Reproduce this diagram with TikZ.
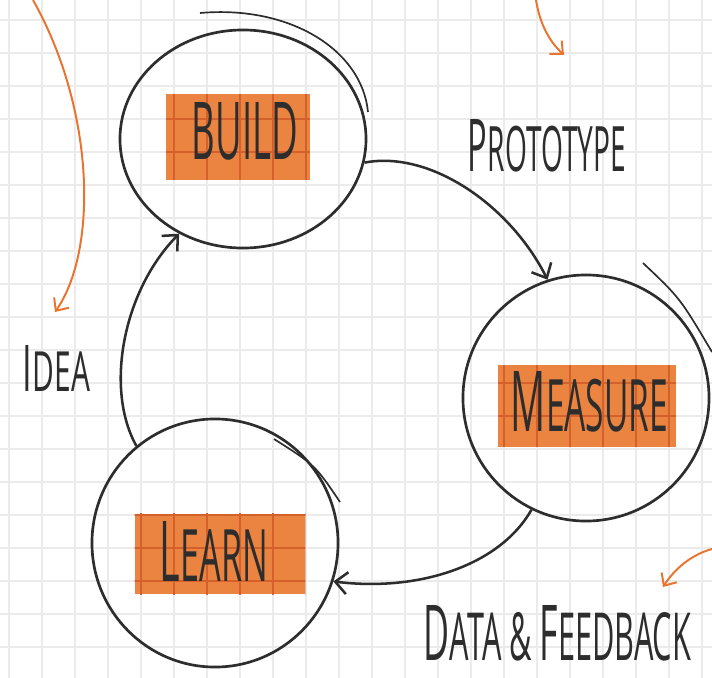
\documentclass[tikz,border=0pt]{standalone}
\usepackage{xcolor}
\usepackage{graphicx}
\usepackage{fontspec}
\setmainfont{Open Sans}
\usepackage{tikz}
\usetikzlibrary{shapes.geometric,arrows.meta}

\definecolor{ink}{HTML}{2D2D2D}
\definecolor{marker}{HTML}{EA8440}
\definecolor{markerline}{HTML}{D4612B}
\definecolor{pencil}{HTML}{E8742F}
\definecolor{paper}{HTML}{EBEBEB}

% big first letter, small caps after it
\newcommand{\capword}[2]{#1\scalebox{0.86}{#2}}

\begin{document}
\begin{tikzpicture}
    [x=0.025cm,y=-0.025cm,
    gridline/.style={paper,line width=1.1pt},
    boxgrid/.style={markerline,line width=0.9pt},
    stage/.style={ellipse,draw=ink,line width=1.9pt,inner sep=0pt},
    overstroke/.style={ink,line width=1.2pt},
    tag/.style={rectangle,fill=marker,inner sep=0pt},
    word/.style={inner sep=0pt,text=ink},
    flow/.style={ink,line width=1.8pt,-{Straight Barb[length=3mm,width=5.5mm]}},
    note/.style={pencil,line width=1.4pt,-{Straight Barb[length=2.5mm,width=4.5mm]}}]

\useasboundingbox (0,0) rectangle (712,678);
\fill[white] (0,0) rectangle (712,678);

%paper grid
\foreach \gx in {9,42,...,712}
    \draw[gridline] (\gx,0) -- (\gx,678);
\foreach \gy in {20,53,...,678}
    \draw[gridline] (0,\gy) -- (712,\gy);

%the three stages
\node[stage,minimum width=6.15cm,minimum height=5.45cm] (build) at (243,139) {};
\node[stage,minimum width=6.15cm,minimum height=6.15cm] (measure) at (586,398) {};
\node[stage,minimum width=6.15cm,minimum height=6.2cm] (learn) at (215,543) {};

%hand drawn overlaps of the circles
\draw[overstroke] (200,13) .. controls (290,5) and (362,50) .. (368,112);
\draw[overstroke] (643,263) .. controls (680,298) .. (712,352);
\draw[overstroke] (274,439) .. controls (315,465) .. (340,502);

%marker boxes
\node[tag,minimum width=3.575cm,minimum height=2.125cm] (buildbox) at (238,137) {};
\node[tag,minimum width=4.425cm,minimum height=2.025cm] (measurebox) at (587,406) {};
\node[tag,minimum width=4.25cm,minimum height=2cm] (learnbox) at (220,554) {};

%grid showing through the marker
\foreach \b in {buildbox,measurebox,learnbox} {
    \begin{scope}
    \clip (\b.south west) rectangle (\b.north east);
    \foreach \gx in {9,42,...,712}
        \draw[boxgrid] (\gx,0) -- (\gx,678);
    \foreach \gy in {20,53,...,678}
        \draw[boxgrid] (0,\gy) -- (712,\gy);
    \end{scope}
}

%stage names
\node[word] (buildword) at (245,131.5) {\resizebox{2.65cm}{1.425cm}{BUILD}};
\node[word] (measureword) at (589.5,402) {\resizebox{3.925cm}{1.5cm}{\capword{M}{EASURE}}};
\node[word] (learnword) at (214,551) {\resizebox{2.7cm}{1.5cm}{\capword{L}{EARN}}};

%connectors between the stages
\draw[flow] (build.349) .. controls (430,150) and (510,205) .. (measure.108);
\draw[flow] (measure.244) .. controls (500,565) and (420,592) .. (learn.342);
\draw[flow] (learn.129) .. controls (105,390) and (122,292) .. (build.236);

%connector labels
\node[word] (prototype) at (547,146) {\resizebox{3.95cm}{1.3cm}{\capword{P}{ROTOTYPE}}};
\node[word] (data) at (557.5,633.5) {\resizebox{6.675cm}{1.375cm}{\capword{D}{ATA \& }\capword{F}{EEDBACK}}};
\node[word] (idea) at (56.5,368) {\resizebox{1.675cm}{1.15cm}{\capword{I}{DEA}}};

%orange pencil arrows at the edges
\coordinate (leftfrom) at (33,0);
\coordinate (leftto) at (55,312);
\coordinate (topfrom) at (536,0);
\coordinate (topto) at (564,55);
\coordinate (rightfrom) at (712,549);
\coordinate (rightto) at (663,587);
\draw[note] (leftfrom) .. controls (95,110) and (98,250) .. (leftto);
\draw[note] (topfrom) .. controls (540,25) and (550,42) .. (topto);
\draw[note] (rightfrom) .. controls (690,555) and (674,570) .. (rightto);

\end{tikzpicture}
\end{document}
